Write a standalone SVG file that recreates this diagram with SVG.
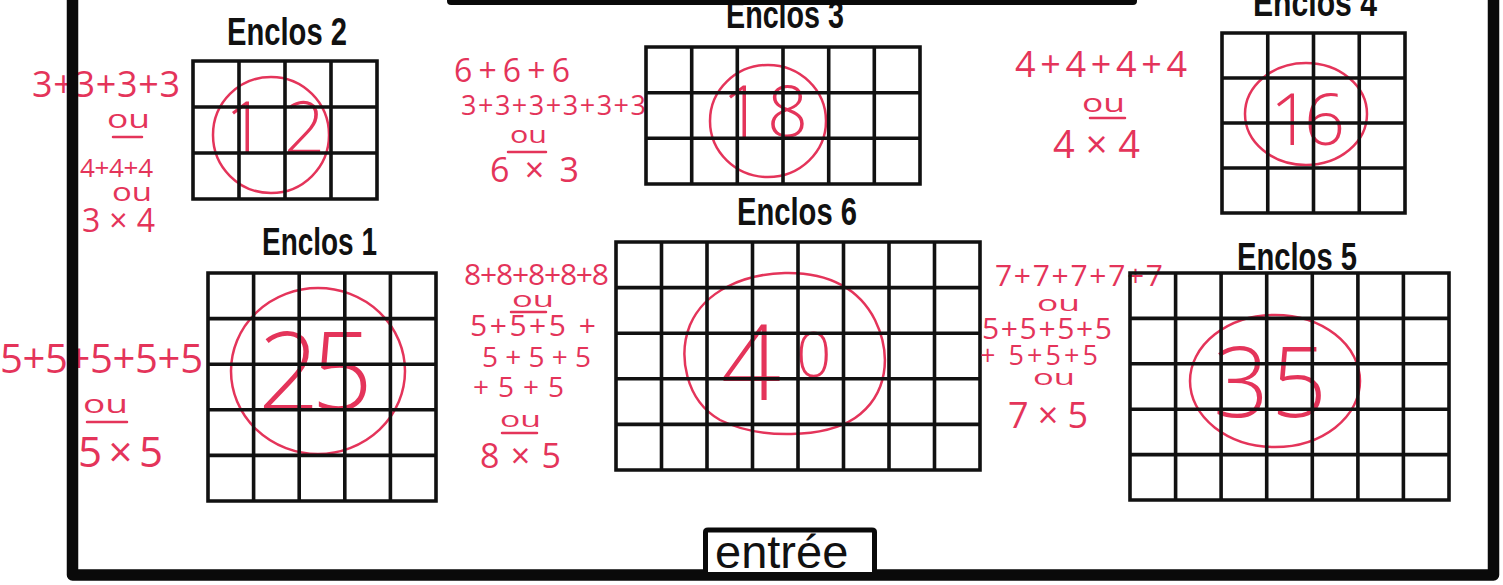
<svg xmlns="http://www.w3.org/2000/svg" width="1503" height="585" viewBox="0 0 1503 585">
<style>
.hw{fill:#e4345a;font-family:"Open Sans","Liberation Sans",sans-serif;font-weight:400}
.big{font-weight:300}
.ring{fill:none;stroke:#e4345a;stroke-width:2.5}
.ul{stroke:#e4345a;stroke-width:2.5;stroke-linecap:round}
.grid{fill:none;stroke:#111;stroke-width:3.6;stroke-linecap:square}
.lbl{fill:#111;font-family:"Liberation Sans",Arial,sans-serif;font-weight:bold;font-size:38px}
.wall{fill:none;stroke:#0a0a0a;stroke-width:11.5;stroke-linejoin:round}
</style>
<rect width="1503" height="585" fill="#fff"/>

<g id="enclos2">
<text class="hw" x="32" y="97" font-size="36" textLength="148">3+3+3+3</text>
<text class="hw" x="107" y="128" font-size="26" textLength="43" lengthAdjust="spacingAndGlyphs">ou</text>
<line class="ul" x1="113" y1="137" x2="142" y2="137"/>
<text class="hw" x="80" y="177" font-size="26" textLength="73">4+4+4</text>
<text class="hw" x="112" y="201" font-size="25" textLength="40" lengthAdjust="spacingAndGlyphs">ou</text>
<text class="hw" x="82" y="232" font-size="32" textLength="73">3×4</text>
<ellipse class="ring" cx="271" cy="135" rx="58" ry="58"/>
<text class="hw big" x="225" y="153" font-size="72" textLength="100">12</text>
<path class="grid" d="M193 61H377V199H193Z M239 61V199 M285 61V199 M331 61V199 M193 107H377 M193 153H377"/>
<text class="lbl" x="227" y="45" textLength="120" lengthAdjust="spacingAndGlyphs">Enclos 2</text>
</g>

<g id="enclos3">
<text class="hw" x="454" y="82" font-size="32" textLength="116">6+6+6</text>
<text class="hw" x="461" y="115" font-size="27" textLength="185">3+3+3+3+3+3</text>
<text class="hw" x="510" y="143" font-size="23" textLength="37" lengthAdjust="spacingAndGlyphs">ou</text>
<line class="ul" x1="508" y1="152" x2="546" y2="152"/>
<text class="hw" x="490" y="182" font-size="34" textLength="89">6×3</text>
<ellipse class="ring" cx="768" cy="121" rx="58" ry="56"/>
<text class="hw big" x="722" y="137" font-size="72" textLength="86">18</text>
<path class="grid" d="M646 47H920V184H646Z M691.7 47V184 M737.3 47V184 M783 47V184 M828.7 47V184 M874.3 47V184 M646 92.7H920 M646 138.3H920"/>
<text class="lbl" x="726" y="28" textLength="118" lengthAdjust="spacingAndGlyphs">Enclos 3</text>
</g>

<g id="enclos4">
<text class="hw" x="1015" y="77" font-size="36" textLength="172">4+4+4+4</text>
<text class="hw" x="1082" y="112" font-size="26" textLength="43" lengthAdjust="spacingAndGlyphs">ou</text>
<line class="ul" x1="1090" y1="118" x2="1125" y2="118"/>
<text class="hw" x="1053" y="158" font-size="38" textLength="87">4×4</text>
<ellipse class="ring" cx="1306" cy="114" rx="61" ry="51"/>
<text class="hw big" x="1270" y="145" font-size="72" textLength="75">16</text>
<path class="grid" d="M1222 33H1405V213H1222Z M1267.75 33V213 M1313.5 33V213 M1359.25 33V213 M1222 78H1405 M1222 123H1405 M1222 168H1405"/>
<text class="lbl" x="1253" y="16" textLength="124" lengthAdjust="spacingAndGlyphs">Enclos 4</text>
</g>

<g id="enclos1">
<text class="hw" x="0" y="373" font-size="40" textLength="203">5+5+5+5+5</text>
<text class="hw" x="83" y="413" font-size="26" textLength="45" lengthAdjust="spacingAndGlyphs">ou</text>
<line class="ul" x1="87" y1="422" x2="127" y2="422"/>
<text class="hw" x="78" y="467" font-size="42" textLength="85">5×5</text>
<ellipse class="ring" cx="318" cy="371" rx="87" ry="83"/>
<text class="hw big" x="258" y="410" font-size="108" textLength="115">25</text>
<path class="grid" d="M208 273H436V501H208Z M253.6 273V501 M299.2 273V501 M344.8 273V501 M390.4 273V501 M208 318.6H436 M208 364.2H436 M208 409.8H436 M208 455.4H436"/>
<text class="lbl" x="262" y="255" textLength="115" lengthAdjust="spacingAndGlyphs">Enclos 1</text>
</g>

<g id="enclos6">
<text class="hw" x="464" y="285" font-size="30" textLength="145">8+8+8+8+8</text>
<text class="hw" x="512" y="307" font-size="22" textLength="42" lengthAdjust="spacingAndGlyphs">ou</text>
<line class="ul" x1="511" y1="312" x2="546" y2="312"/>
<text class="hw" x="470" y="336" font-size="30" textLength="126">5+5+5 +</text>
<text class="hw" x="482" y="367" font-size="28" textLength="109">5+5+5</text>
<text class="hw" x="473" y="397" font-size="28" textLength="91">+5+5</text>
<text class="hw" x="500" y="427" font-size="22" textLength="41" lengthAdjust="spacingAndGlyphs">ou</text>
<line class="ul" x1="502" y1="433" x2="537" y2="433"/>
<text class="hw" x="480" y="468" font-size="34" textLength="81">8×5</text>
<path class="ring" d="M785 273C830 272 860 290 875 320C892 355 888 395 855 418C825 438 760 440 720 420C685 400 678 355 690 325C705 290 745 274 785 273Z"/>
<text class="hw big"><tspan x="721" y="400" font-size="105">4</tspan><tspan x="796" y="377" font-size="62">0</tspan></text>
<path class="grid" d="M616 242H980V470H616Z M661.5 242V470 M707 242V470 M752.5 242V470 M798 242V470 M843.5 242V470 M889 242V470 M934.5 242V470 M616 287.6H980 M616 333.2H980 M616 378.8H980 M616 424.4H980"/>
<text class="lbl" x="737" y="225" textLength="120" lengthAdjust="spacingAndGlyphs">Enclos 6</text>
</g>

<g id="enclos5">
<text class="hw" x="995" y="286" font-size="30" textLength="168">7+7+7+7+7</text>
<text class="hw" x="1037" y="311" font-size="22" textLength="43" lengthAdjust="spacingAndGlyphs">ou</text>
<text class="hw" x="982" y="339" font-size="30" textLength="130">5+5+5+5</text>
<text class="hw" x="980" y="365" font-size="27" textLength="118">+ 5+5+5</text>
<text class="hw" x="1033" y="385" font-size="22" textLength="42" lengthAdjust="spacingAndGlyphs">ou</text>
<text class="hw" x="1008" y="428" font-size="36" textLength="80">7×5</text>
<ellipse class="ring" cx="1275" cy="381" rx="85" ry="66"/>
<text class="hw big" x="1213" y="417" font-size="98" textLength="114">35</text>
<path class="grid" d="M1130 273H1449V500H1130Z M1175.6 273V500 M1221.1 273V500 M1266.7 273V500 M1312.3 273V500 M1357.9 273V500 M1403.4 273V500 M1130 318.4H1449 M1130 363.8H1449 M1130 409.2H1449 M1130 454.6H1449"/>
<text class="lbl" x="1237" y="270" textLength="120" lengthAdjust="spacingAndGlyphs">Enclos 5</text>
</g>

<g id="walls">
<path class="wall" d="M72.5 -5V575H1493.5V-5"/>
<rect x="447" y="-10" width="690" height="15" rx="4" fill="#0a0a0a"/>
</g>

<g id="entree">
<path d="M705.5 572V532Q705.5 530 708 530H872Q874.5 530 874.5 532V572" fill="#fff" stroke="#0a0a0a" stroke-width="5"/>
<text x="715" y="568" font-family="Liberation Sans,Arial,sans-serif" font-size="47" fill="#111">entrée</text>
</g>
</svg>
